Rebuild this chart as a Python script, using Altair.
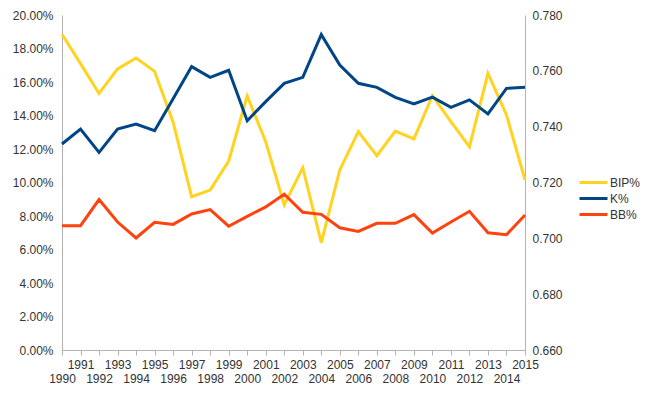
import altair as alt
import pandas as pd

years = list(range(1990, 2016))
bip = [0.7731, 0.7626, 0.7519, 0.7607, 0.7646, 0.7598, 0.7416, 0.7149, 0.7173, 0.7277,
       0.7510, 0.7346, 0.7120, 0.7253, 0.6985, 0.7245, 0.7382, 0.7296, 0.7384, 0.7356,
       0.7511, 0.7418, 0.7328, 0.7591, 0.7442, 0.7209]
k_rate = [0.1230, 0.1319, 0.1180, 0.1319, 0.1349, 0.1309, 0.1500, 0.1692, 0.1628, 0.1670,
          0.1369, 0.1483, 0.1592, 0.1628, 0.1883, 0.1701, 0.1592, 0.1568, 0.1508, 0.1469,
          0.1510, 0.1449, 0.1493, 0.1409, 0.1562, 0.1568]
bb_rate = [0.0742, 0.0742, 0.0898, 0.0764, 0.0669, 0.0762, 0.0750, 0.0812, 0.0838, 0.0739,
           0.0798, 0.0854, 0.0930, 0.0822, 0.0810, 0.0730, 0.0708, 0.0756, 0.0756, 0.0808,
           0.0698, 0.0764, 0.0828, 0.0700, 0.0688, 0.0806]
series_names = ["BIP%", "K%", "BB%"]
series_colors = ["#ffd320", "#004586", "#ff420e"]
left_ticks = [0, 0.02, 0.04, 0.06, 0.08, 0.10, 0.12, 0.14, 0.16, 0.18, 0.20]
right_ticks = [0.66, 0.68, 0.70, 0.72, 0.74, 0.76, 0.78]

rate_df = pd.DataFrame({
    "year": years * 2,
    "series": ["K%"] * len(years) + ["BB%"] * len(years),
    "value": k_rate + bb_rate,
})
bip_df = pd.DataFrame({"year": years, "series": ["BIP%"] * len(years), "value": bip})

grid_col = "#b3b3b3"
font = "Liberation Sans"

x = alt.X(
    "year:Q",
    scale=alt.Scale(domain=[1990, 2015], nice=False, zero=False),
    axis=alt.Axis(
        values=years, format="d", title=None, grid=False,
        labelExpr="datum.value % 2 == 1 ? [datum.label, ''] : ['', datum.label]",
        labelOverlap=False, labelFlush=False, tickSize=5, tickColor=grid_col,
        domainColor=grid_col, labelPadding=4, labelLineHeight=14,
    ),
)

color = alt.Color(
    "series:N",
    scale=alt.Scale(domain=series_names, range=series_colors),
    legend=alt.Legend(
        title=None, orient="none", legendX=523, legendY=159,
        symbolType="M-2,0H2", symbolSize=196, symbolStrokeWidth=3,
        labelOffset=8, rowPadding=1, padding=0,
        labelFontSize=12, labelColor="#333333", labelFont=font,
    ),
)

right = alt.Chart(bip_df).mark_line(strokeWidth=3).encode(
    x=x,
    y=alt.Y(
        "value:Q",
        scale=alt.Scale(domain=[0.66, 0.78], zero=False, nice=False),
        axis=alt.Axis(values=right_ticks, format=".3f", orient="right", ticks=False,
                      grid=False, labelPadding=7, domainColor=grid_col, title=None),
    ),
    color=color,
)

left = alt.Chart(rate_df).mark_line(strokeWidth=3).encode(
    x=x,
    y=alt.Y(
        "value:Q",
        scale=alt.Scale(domain=[0, 0.2], nice=False),
        axis=alt.Axis(values=left_ticks, format=".2%", orient="left", ticks=False,
                      labelPadding=9, gridColor=grid_col, domainColor=grid_col, title=None),
    ),
    color=color,
)

chart = (
    alt.layer(right, left)
    .resolve_scale(y="independent")
    .properties(
        width=463, height=335,
        autosize=alt.AutoSizeParams(type="none"),
        padding={"left": 54, "top": 7, "right": 117, "bottom": 36},
    )
    .configure_view(stroke=None)
    .configure_axis(labelFont=font, labelFontSize=12, labelColor="#333333")
)

chart.save("out.html", embed_options={"renderer": "svg", "actions": False})
